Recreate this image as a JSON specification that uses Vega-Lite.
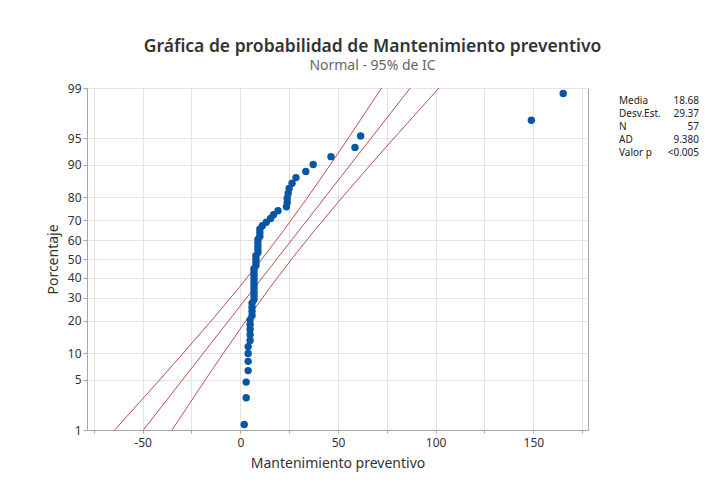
{
  "$schema": "https://vega.github.io/schema/vega-lite/v6.json",
  "autosize": {"type": "pad"},
  "padding": {"left": 45, "top": 37, "right": 35, "bottom": 20},
  "background": "white",
  "config": {
    "font": "Noto Sans",
    "view": {"stroke": null},
    "axis": {
      "labelFont": "Noto Sans", "labelFontSize": 12, "labelColor": "#333333",
      "titleFont": "Noto Sans", "titleFontSize": 14, "titleFontWeight": "normal", "titleColor": "#333333",
      "domainColor": "#a6a6a6", "tickColor": "#a6a6a6", "gridColor": "#e3e3e3",
      "labelOverlap": false
    }
  },
  "datasets": {
    "points": [
      {"x": 2, "p": 1.22}, {"x": 3, "p": 2.96}, {"x": 3, "p": 4.70}, {"x": 4, "p": 6.45},
      {"x": 4, "p": 8.19}, {"x": 4, "p": 9.93}, {"x": 4, "p": 11.67}, {"x": 5, "p": 13.41},
      {"x": 5, "p": 15.16}, {"x": 5, "p": 16.90}, {"x": 5, "p": 18.64}, {"x": 5, "p": 20.38},
      {"x": 6, "p": 22.13}, {"x": 6, "p": 23.87}, {"x": 6, "p": 25.61}, {"x": 6, "p": 27.35},
      {"x": 7, "p": 29.09}, {"x": 7, "p": 30.84}, {"x": 7, "p": 32.58}, {"x": 7, "p": 34.32},
      {"x": 7, "p": 36.06}, {"x": 7, "p": 37.80}, {"x": 7, "p": 39.55}, {"x": 7, "p": 41.29},
      {"x": 7, "p": 43.03}, {"x": 7, "p": 44.77}, {"x": 8, "p": 46.52}, {"x": 8, "p": 48.26},
      {"x": 8, "p": 50.00}, {"x": 8, "p": 51.74}, {"x": 9, "p": 53.48}, {"x": 9, "p": 55.23},
      {"x": 9, "p": 56.97}, {"x": 9, "p": 58.71}, {"x": 9, "p": 60.45}, {"x": 10, "p": 62.20},
      {"x": 10, "p": 63.94}, {"x": 10, "p": 65.68}, {"x": 11.3, "p": 67.42}, {"x": 13.3, "p": 69.16},
      {"x": 15.5, "p": 70.91}, {"x": 17, "p": 72.65}, {"x": 19.3, "p": 74.39}, {"x": 23.6, "p": 76.13},
      {"x": 24, "p": 77.87}, {"x": 24, "p": 79.62}, {"x": 24.5, "p": 81.36}, {"x": 25, "p": 83.10},
      {"x": 26.5, "p": 84.84}, {"x": 28.5, "p": 86.59}, {"x": 33.5, "p": 88.33}, {"x": 37.3, "p": 90.07},
      {"x": 46.4, "p": 91.81}, {"x": 58.7, "p": 93.55}, {"x": 61.6, "p": 95.30}, {"x": 149, "p": 97.04},
      {"x": 165.3, "p": 98.78}
    ],
    "lines": [
      {"s": "fit", "p": 1, "x": -49.64}, {"s": "fit", "p": 50, "x": 18.68}, {"s": "fit", "p": 99, "x": 87.0},
      {"s": "lower", "p": 1, "x": -64.32}, {"s": "lower", "p": 5, "x": -41.33}, {"s": "lower", "p": 10, "x": -29.25},
      {"s": "lower", "p": 20, "x": -14.91}, {"s": "lower", "p": 35, "x": -0.54}, {"s": "lower", "p": 50, "x": 11.06},
      {"s": "lower", "p": 65, "x": 22.09}, {"s": "lower", "p": 80, "x": 34.53}, {"s": "lower", "p": 90, "x": 46.03},
      {"s": "lower", "p": 95, "x": 55.30}, {"s": "lower", "p": 99, "x": 72.33},
      {"s": "upper", "p": 1, "x": -34.97}, {"s": "upper", "p": 5, "x": -17.94}, {"s": "upper", "p": 10, "x": -8.67},
      {"s": "upper", "p": 20, "x": 2.83}, {"s": "upper", "p": 35, "x": 15.27}, {"s": "upper", "p": 50, "x": 26.31},
      {"s": "upper", "p": 65, "x": 37.90}, {"s": "upper", "p": 80, "x": 52.27}, {"s": "upper", "p": 90, "x": 66.61},
      {"s": "upper", "p": 95, "x": 78.69}, {"s": "upper", "p": 99, "x": 101.68}
    ],
    "stats": [
      {"stat": "Media", "value": "18.68"},
      {"stat": "Desv.Est.", "value": "29.37"},
      {"stat": "N", "value": "57"},
      {"stat": "AD", "value": "9.380"},
      {"stat": "Valor p", "value": "<0.005"}
    ]
  },
  "spacing": 17,
  "hconcat": [
    {
      "width": 501,
      "height": 342,
      "view": {"stroke": "#a6a6a6"},
      "title": {
        "text": "Gráfica de probabilidad de Mantenimiento preventivo",
        "subtitle": "Normal - 95% de IC",
        "anchor": "middle", "frame": "group", "dx": 35, "offset": 9,
        "font": "Noto Sans", "fontSize": 17.5, "fontWeight": 600, "color": "#333333",
        "subtitleFont": "Noto Sans", "subtitleFontSize": 14, "subtitleColor": "#666666", "subtitlePadding": 4
      },
      "layer": [
        {
          "data": {"name": "lines"},
          "transform": [{"calculate": "quantileNormal(datum.p / 100)", "as": "z"}],
          "mark": {"type": "line", "color": "#b8514a", "strokeWidth": 1, "clip": true},
          "encoding": {
            "x": {
              "field": "x", "type": "quantitative",
              "scale": {"domain": [-78.5, 178], "nice": false, "zero": false},
              "axis": {
                "title": "Mantenimiento preventivo",
                "values": [-75, -50, -25, 0, 25, 50, 75, 100, 125, 150, 175],
                "tickCount": 40,
                "labelExpr": "datum.value % 50 == 0 ? '' + datum.value : ''",
                "labelOverlap": false,
                "tickSize": 3, "labelPadding": 4, "titlePadding": 8, "grid": true
              }
            },
            "y": {
              "field": "z", "type": "quantitative",
              "scale": {"domain": [-2.3263, 2.3263], "nice": false, "zero": false},
              "axis": {
                "title": "Porcentaje",
                "values": [-2.3263, -1.6449, -1.2816, -0.8416, -0.5244, -0.2533, 0, 0.2533, 0.5244, 0.8416, 1.2816, 1.6449, 2.3263],
                "tickCount": 40,
                "labelExpr": "format(cumulativeNormal(datum.value) * 100, '.0f')",
                "labelOverlap": false,
                "tickSize": 4, "labelPadding": 2, "titlePadding": 7, "grid": true
              }
            },
            "detail": {"field": "s"},
            "order": {"field": "p", "type": "quantitative"}
          }
        },
        {
          "data": {"name": "points"},
          "transform": [{"calculate": "quantileNormal(datum.p / 100)", "as": "z"}],
          "mark": {"type": "circle", "size": 55, "color": "#0b55a5", "opacity": 1},
          "encoding": {
            "x": {"field": "x", "type": "quantitative"},
            "y": {"field": "z", "type": "quantitative"}
          }
        }
      ]
    },
    {
      "width": 80,
      "height": 66,
      "data": {"name": "stats"},
      "encoding": {
        "y": {"field": "stat", "type": "nominal", "sort": null, "axis": null}
      },
      "layer": [
        {
          "mark": {"type": "text", "align": "left", "baseline": "middle", "dy": 6, "fontSize": 10, "color": "#222222"},
          "encoding": {
            "x": {"datum": "a", "type": "nominal", "scale": {"domain": ["a", "b"], "type": "point", "padding": 0}, "axis": null},
            "text": {"field": "stat"}
          }
        },
        {
          "mark": {"type": "text", "align": "right", "baseline": "middle", "dy": 6, "fontSize": 10, "color": "#222222"},
          "encoding": {
            "x": {"datum": "b", "type": "nominal"},
            "text": {"field": "value"}
          }
        }
      ]
    }
  ]
}
